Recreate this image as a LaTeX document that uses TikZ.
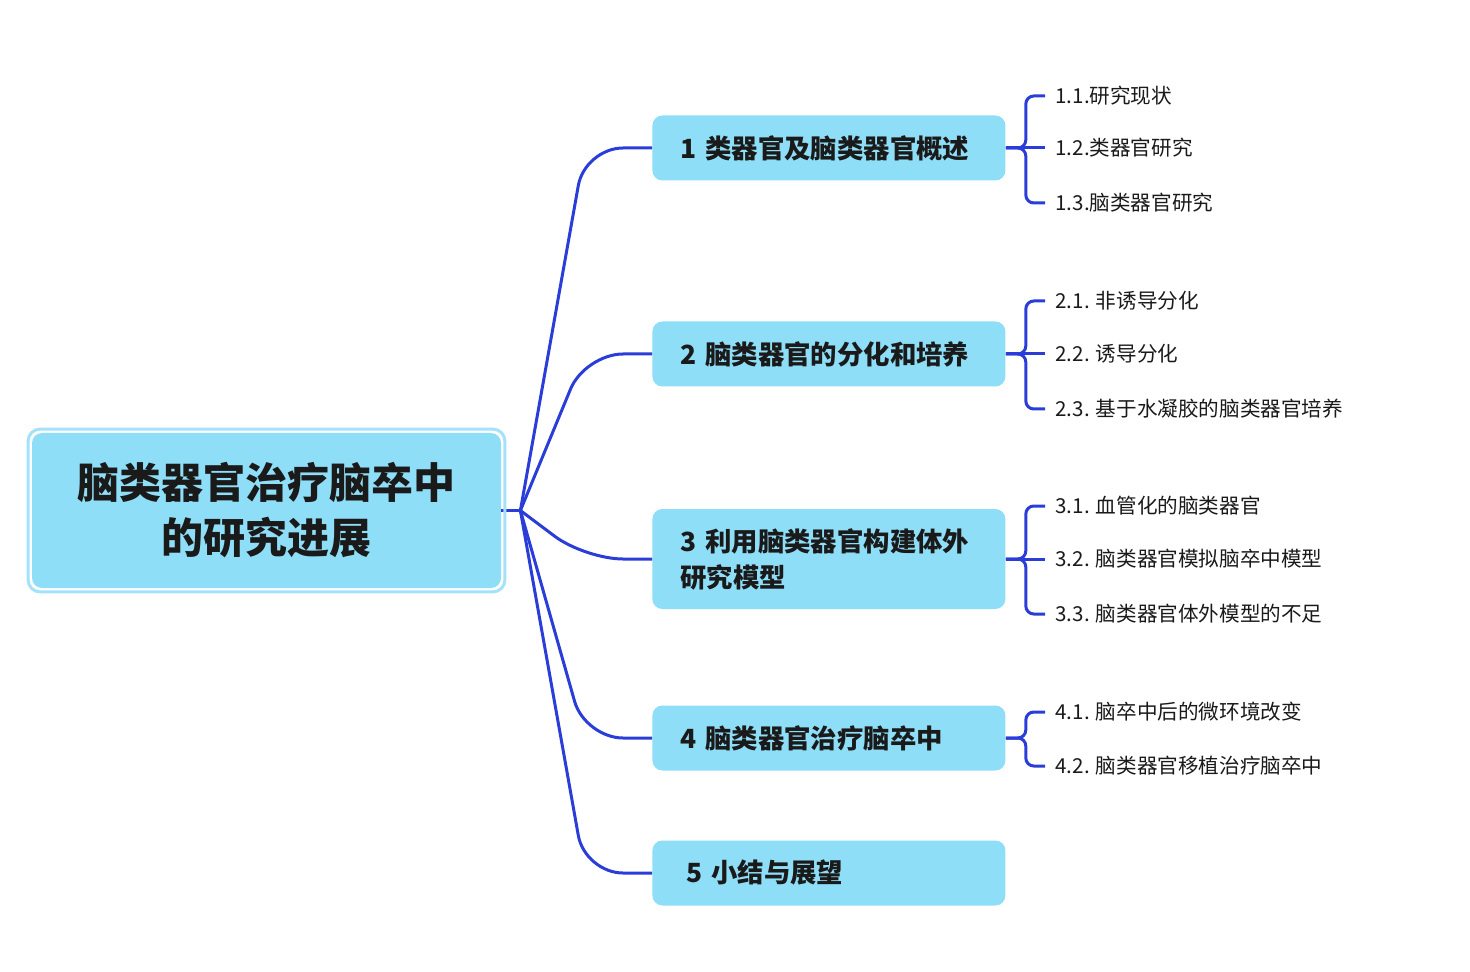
\documentclass[tikz,border=0pt]{standalone}
\usepackage{fontspec}
\setmainfont{Noto Sans CJK SC}
\usetikzlibrary{positioning,calc}
\definecolor{boxblue}{HTML}{8EDEF8}
\definecolor{rimblue}{HTML}{A3E2FA}
\definecolor{linkblue}{HTML}{2B3DD8}
\definecolor{inkgray}{HTML}{1A1A1A}
\tikzset{
	rootbox/.style={fill=boxblue, rounded corners=5pt, align=center, text=inkgray,
		minimum width=234.5pt, minimum height=77.5pt, font=\fontsize{21}{27.5}\selectfont\bfseries},
	rootrim/.style={draw=rimblue, line width=1.5pt, rounded corners=6pt},
	topic/.style={fill=boxblue, rounded corners=5pt, anchor=west, align=left, text=inkgray,
		inner xsep=14pt, minimum width=176.5pt, minimum height=32.5pt, text width=148.5pt,
		font=\fontsize{13.2}{18}\selectfont\bfseries},
	subtopic/.style={anchor=west, inner xsep=5pt, text=inkgray, font=\fontsize{10.3}{12}\selectfont},
	link/.style={draw=linkblue, line width=1.5pt},
	branch/.style={link, rounded corners=19pt},
	fork/.style={link, rounded corners=4pt}
}

\begin{document}
\begin{tikzpicture}[x=0.5pt,y=-0.5pt]
	\useasboundingbox (0,0) rectangle (1470,972);

	% central topic
	\node[rootbox] (root) at (266.5,510.5) {脑类器官治疗脑卒中\\的研究进展};
	\coordinate (hub) at ($(root.east)+(19,0)$);

	% main topics
	\node[topic] (b1) at (652,148) {1 类器官及脑类器官概述};
	\node[topic] (b2) at (652,354) {2 脑类器官的分化和培养};
	\node[topic, minimum height=50pt] (b3) at (652,559) {3 利用脑类器官构建体外\\研究模型};
	\node[topic] (b4) at (652,738) {4 脑类器官治疗脑卒中};
	\node[topic] (b5) at (652,873) {\hspace{3pt}5 小结与展望};

	% sub topics
	\node[subtopic] (s11) at (1045,96) {1.1.研究现状};
	\node[subtopic] (s12) at (1045,148) {1.2.类器官研究};
	\node[subtopic] (s13) at (1045,203) {1.3.脑类器官研究};
	\node[subtopic] (s21) at (1045,301) {2.1. 非诱导分化};
	\node[subtopic] (s22) at (1045,354) {2.2. 诱导分化};
	\node[subtopic] (s23) at (1045,409) {2.3. 基于水凝胶的脑类器官培养};
	\node[subtopic] (s31) at (1045,506) {3.1. 血管化的脑类器官};
	\node[subtopic] (s32) at (1045,559) {3.2. 脑类器官模拟脑卒中模型};
	\node[subtopic] (s33) at (1045,614) {3.3. 脑类器官体外模型的不足};
	\node[subtopic] (s41) at (1045,712) {4.1. 脑卒中后的微环境改变};
	\node[subtopic] (s42) at (1045,766) {4.2. 脑类器官移植治疗脑卒中};

	% links from the centre
	\draw[link] (root.east) -- (hub);
	\draw[branch] (hub) -- ([xshift=-33.5pt]b1.west) -- (b1.west);
	\draw[branch] (hub) -- ([xshift=-33.5pt]b2.west) -- (b2.west);
	\draw[branch] (hub) -- ([xshift=-33.5pt]b3.west) -- (b3.west);
	\draw[branch] (hub) -- ([xshift=-33.5pt]b4.west) -- (b4.west);
	\draw[branch] (hub) -- ([xshift=-33.5pt]b5.west) -- (b5.west);
	\draw[rootrim] ($(root.north west)+(-3.5,-3.5)$) rectangle ($(root.south east)+(3.5,3.5)$);

	% brackets
	\draw[fork] (b1.east) -- ++(20,0) |- (s11.west);
	\draw[link] (b1.east) -- (s12.west);
	\draw[fork] (b1.east) -- ++(20,0) |- (s13.west);
	\draw[fork] (b2.east) -- ++(20,0) |- (s21.west);
	\draw[link] (b2.east) -- (s22.west);
	\draw[fork] (b2.east) -- ++(20,0) |- (s23.west);
	\draw[fork] (b3.east) -- ++(20,0) |- (s31.west);
	\draw[link] (b3.east) -- (s32.west);
	\draw[fork] (b3.east) -- ++(20,0) |- (s33.west);
	\draw[fork] (b4.east) -- ++(20,0) |- (s41.west);
	\draw[fork] (b4.east) -- ++(20,0) |- (s42.west);
\end{tikzpicture}
\end{document}
